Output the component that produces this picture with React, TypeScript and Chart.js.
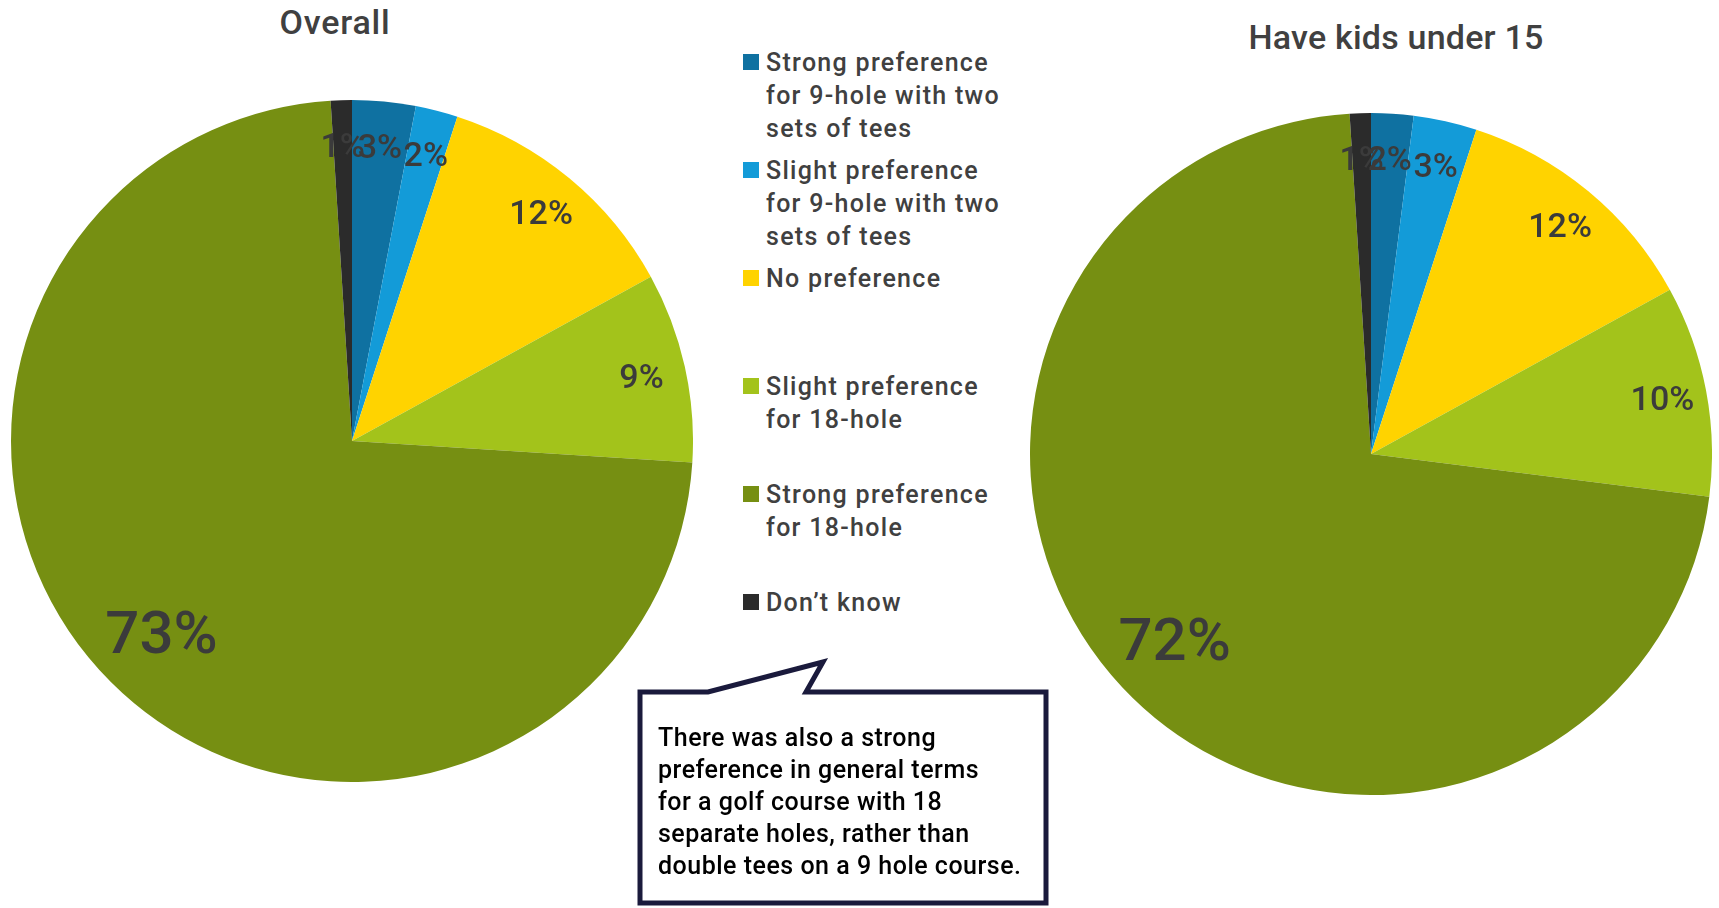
import React, { useEffect, useRef } from "react";
import { Chart, registerables } from "chart.js";

Chart.register(...registerables);

const categories = [
  "Strong preference for 9-hole with two sets of tees",
  "Slight preference for 9-hole with two sets of tees",
  "No preference",
  "Slight preference for 18-hole",
  "Strong preference for 18-hole",
  "Don\u2019t know",
];
const legendLines = [
  ["Strong preference", "for 9-hole with two", "sets of tees"],
  ["Slight preference", "for 9-hole with two", "sets of tees"],
  ["No preference"],
  ["Slight preference", "for 18-hole"],
  ["Strong preference", "for 18-hole"],
  ["Don\u2019t know"],
];
const overallValues = [3, 2, 12, 9, 73, 1];
const kidsValues = [2, 3, 12, 10, 72, 1];
const sliceColors = ["#0f71a1", "#139bd8", "#ffd300", "#a3c31b", "#768f12", "#2b2b2b"];
const titles = ["Overall", "Have kids under 15"];
const calloutLines = [
  "There was also a strong",
  "preference in general terms",
  "for a golf course with 18",
  "separate holes, rather than",
  "double tees on a 9 hole course.",
];

const FONT = "Roboto, 'DejaVu Sans', sans-serif";

const labelPlugin = {
  id: "pieLabels",
  afterDatasetsDraw(chart: any) {
    const ctx = chart.ctx;
    const meta = chart.getDatasetMeta(0);
    const data = chart.data.datasets[0].data as number[];
    meta.data.forEach((arc: any, i: number) => {
      const p = arc.getProps(["x", "y", "startAngle", "endAngle", "outerRadius"], true);
      const mid = (p.startAngle + p.endAngle) / 2;
      const big = data[i] > 50;
      const f = big ? 0.79 : 0.87;
      const fs = big ? 60 : 34;
      const x = p.x + Math.cos(mid) * p.outerRadius * f;
      const y = p.y + Math.sin(mid) * p.outerRadius * f;
      ctx.save();
      ctx.font = `500 ${fs}px ${FONT}`;
      ctx.fillStyle = "#3b3b3b";
      ctx.textAlign = "center";
      ctx.textBaseline = "alphabetic";
      ctx.fillText(`${data[i]}%`, x, y + fs * 0.355);
      ctx.restore();
    });
  },
};

function PieCanvas({ values, left, top, size }: { values: number[]; left: number; top: number; size: number }) {
  const ref = useRef<HTMLCanvasElement>(null);
  useEffect(() => {
    if (!ref.current) return;
    const chart = new Chart(ref.current, {
      type: "pie",
      data: {
        labels: categories,
        datasets: [
          {
            data: values,
            backgroundColor: sliceColors,
            borderWidth: 0,
          },
        ],
      },
      options: {
        animation: false,
        responsive: false,
        maintainAspectRatio: false,
        layout: { padding: 0 },
        plugins: { legend: { display: false }, tooltip: { enabled: false }, title: { display: false } },
      },
      plugins: [labelPlugin],
    });
    return () => chart.destroy();
  }, [values]);
  return (
    <canvas
      ref={ref}
      width={size}
      height={size}
      style={{ position: "absolute", left, top, width: size, height: size }}
    />
  );
}

export default function App() {
  const legendTop = 62;
  const legendStep = 108;
  return (
    <div
      style={{
        position: "fixed",
        left: 0,
        top: 0,
        width: 1719,
        height: 908,
        background: "#ffffff",
        overflow: "hidden",
        fontFamily: FONT,
      }}
    >
      <PieCanvas values={overallValues} left={11} top={100} size={682} />
      <PieCanvas values={kidsValues} left={1030} top={113} size={682} />
      <div
        style={{
          position: "absolute",
          left: 235,
          width: 200,
          top: 22 - 20,
          height: 40,
          lineHeight: "40px",
          textAlign: "center",
          fontSize: 34,
          fontWeight: 500,
          letterSpacing: "0.8px",
          color: "#404040",
        }}
      >
        {titles[0]}
      </div>
      <div
        style={{
          position: "absolute",
          left: 1196,
          width: 400,
          top: 37 - 20,
          height: 40,
          lineHeight: "40px",
          textAlign: "center",
          fontSize: 34,
          fontWeight: 500,
          letterSpacing: "0.2px",
          color: "#404040",
        }}
      >
        {titles[1]}
      </div>
      {legendLines.map((lines, i) => {
        const y = legendTop + i * legendStep;
        return (
          <React.Fragment key={i}>
            <div
              style={{
                position: "absolute",
                left: 743,
                top: y - 8,
                width: 16,
                height: 16,
                background: sliceColors[i],
              }}
            />
            <div
              style={{
                position: "absolute",
                left: 766,
                top: y - 16.5,
                fontSize: 25,
                fontWeight: 500,
                letterSpacing: "1.3px",
                lineHeight: "33px",
                color: "#404040",
                whiteSpace: "nowrap",
              }}
            >
              {lines.map((l, j) => (
                <div key={j}>{l}</div>
              ))}
            </div>
          </React.Fragment>
        );
      })}
      <svg
        width={1719}
        height={908}
        style={{ position: "absolute", left: 0, top: 0, pointerEvents: "none" }}
      >
        <polygon
          points="640,692 708,692 823,662 806,692 1046,692 1046,903 640,903"
          fill="#ffffff"
          stroke="#1a1a3c"
          strokeWidth={5}
          strokeLinejoin="miter"
        />
      </svg>
      <div
        style={{
          position: "absolute",
          left: 658,
          top: 738 - 16,
          fontSize: 25,
          fontWeight: 500,
          letterSpacing: "0.5px",
          lineHeight: "32px",
          color: "#000000",
          whiteSpace: "nowrap",
        }}
      >
        {calloutLines.map((l, j) => (
          <div key={j}>{l}</div>
        ))}
      </div>
    </div>
  );
}
